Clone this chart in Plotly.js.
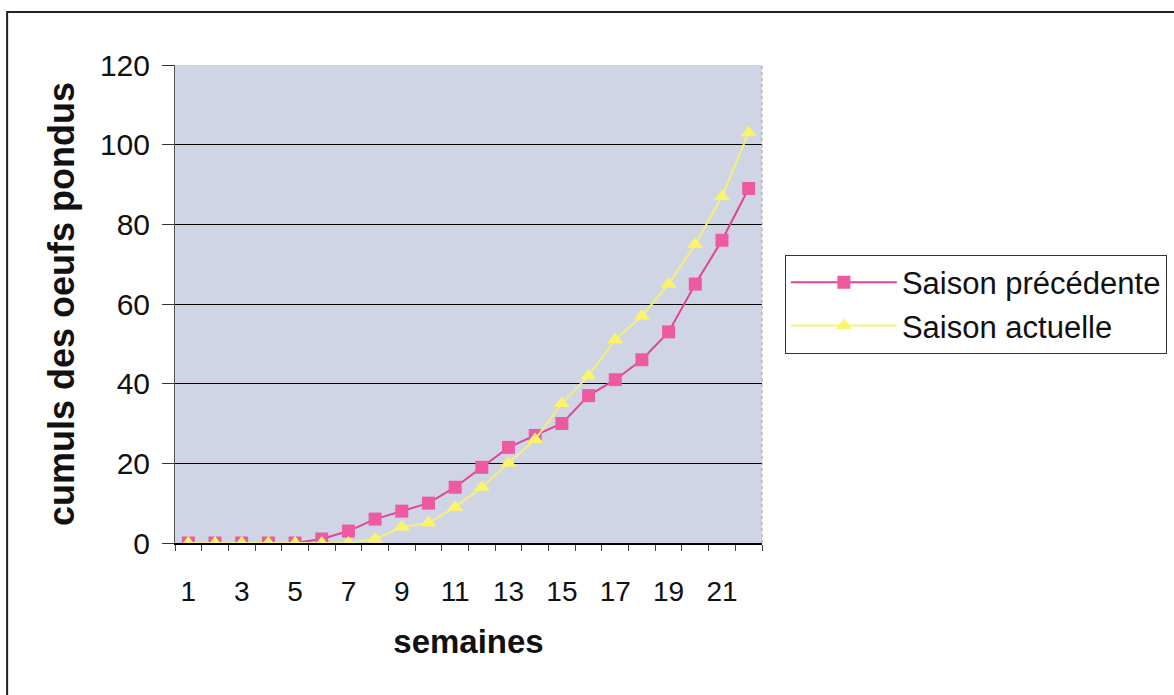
<!DOCTYPE html>
<html>
<head>
<meta charset="utf-8">
<script src="https://cdn.plot.ly/plotly-3.0.1.min.js"></script>
<style>html,body{margin:0;padding:0;background:#fff;}#chart{width:1174px;height:695px;}</style>
</head>
<body>
<div id="chart"></div>
<script>
var weeks = [1,2,3,4,5,6,7,8,9,10,11,12,13,14,15,16,17,18,19,20,21,22];
var tickWeeks = [1,3,5,7,9,11,13,15,17,19,21];
var saisonPrecedente = [0,0,0,0,0,1,3,6,8,10,14,19,24,27,30,37,41,46,53,65,76,89];
var saisonActuelle = [0,0,0,0,0,0,0,1,4,5,9,14,20,26,35,42,51,57,65,75,87,103];
var seriesNames = ["Saison précédente", "Saison actuelle"];

var font = "Liberation Sans, Arial, sans-serif";
var traces = [
  {
    x: weeks, y: saisonPrecedente, name: seriesNames[0], type: "scatter", mode: "lines+markers",
    line: {color: "#e0449a", width: 2},
    marker: {symbol: "square", size: 13, color: "#ee5aa2"}
  },
  {
    x: weeks, y: saisonActuelle, name: seriesNames[1], type: "scatter", mode: "lines+markers",
    line: {color: "#f5ef7a", width: 2},
    marker: {symbol: "triangle-up", size: 14, color: "#fbf46a"}
  }
];

var layout = {
  width: 1174, height: 695,
  margin: {l: 175, r: 412, t: 65, b: 152, autoexpand: false},
  paper_bgcolor: "#ffffff",
  plot_bgcolor: "#d0d5e6",
  font: {family: font, color: "#111"},
  showlegend: true,
  legend: {
    x: 1.039, y: 0.5, xanchor: "left", yanchor: "middle",
    bordercolor: "#333", borderwidth: 1, bgcolor: "#ffffff",
    font: {size: 31, family: font, color: "#111"},
    itemwidth: 106
  },
  xaxis: {
    range: [0.5, 22.5],
    tickmode: "array", tickvals: tickWeeks, ticktext: tickWeeks.map(String),
    ticks: "", showgrid: false, zeroline: false,
    showline: true, linecolor: "#000", linewidth: 2,
    ticklabelstandoff: 22,
    tickfont: {size: 28, family: font, color: "#111"},
    minor: {tick0: 0.5, dtick: 1, ticks: "outside", ticklen: 6, tickcolor: "#444", showgrid: false},
    title: {text: "<b>semaines</b>", font: {size: 33, family: font, color: "#111"}, standoff: 24}
  },
  yaxis: {
    range: [0, 120], dtick: 20, tick0: 0,
    ticks: "outside", ticklen: 12, tickcolor: "#333",
    showgrid: true, gridcolor: "#000", gridwidth: 1,
    zeroline: false, showline: true, linecolor: "#555", linewidth: 1,
    ticklabelstandoff: 6,
    tickfont: {size: 30, family: font, color: "#111"},
    title: {text: "<b>cumuls des oeufs pondus</b>", font: {size: 36, family: font, color: "#111"}, standoff: 14}
  },
  shapes: [
    {type: "rect", xref: "paper", yref: "paper", x0: -0.286, x1: 1.75, y0: -0.32, y1: 1.111,
     line: {color: "#222", width: 2}, fillcolor: "rgba(0,0,0,0)", layer: "below"},
    {type: "line", xref: "paper", yref: "paper", x0: 1, x1: 1, y0: 0, y1: 1,
     line: {color: "#999", width: 1, dash: "dot"}}
  ]
};

Plotly.newPlot("chart", traces, layout, {displayModeBar: false, staticPlot: true});
</script>
</body>
</html>
